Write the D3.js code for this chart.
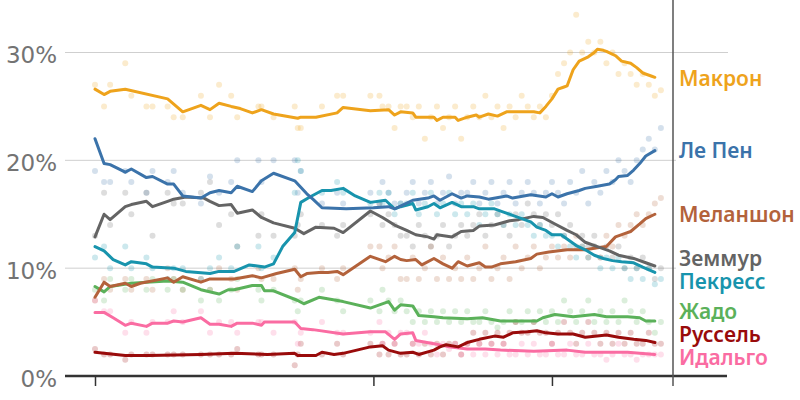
<!DOCTYPE html>
<html>
<head>
<meta charset="utf-8">
<script src="https://cdn.jsdelivr.net/npm/d3@7"></script>
<style>
  body { margin: 0; background: #fff; }
  svg { display: block; font-family: "DejaVu Sans", sans-serif; }
</style>
</head>
<body>
<div id="chart"></div>
<script>
// Candidates, colours and tick values
const candidates = ["Макрон", "Ле Пен", "Меланшон", "Земмур", "Пекресс", "Жадо", "Руссель", "Идальго"];
const colors = ["#eea31c", "#3b73aa", "#b3623b", "#646464", "#1894ad", "#5bb15a", "#990b0b", "#fa6ca2"];
const yTicks = [0, 10, 20, 30];
const yTickLabels = ["0%", "10%", "20%", "30%"];
const xTicks = ["2021-10-01", "2022-01-01", "2022-03-01"];
const electionDay = "2022-04-10";

// Poll average lines
const macronTrend = [["2021-10-01",26.6],["2021-10-04",26.1],["2021-10-06",26.4],["2021-10-11",26.6],["2021-10-25",25.7],["2021-10-30",24.5],["2021-11-05",25.1],["2021-11-08",24.7],["2021-11-11",25.3],["2021-11-15",25.0],["2021-11-18",24.8],["2021-11-22",24.4],["2021-11-25",24.7],["2021-11-29",24.3],["2021-12-07",23.9],["2021-12-08",24.0],["2021-12-13",24.0],["2021-12-20",24.4],["2021-12-22",24.9],["2021-12-31",24.6],["2022-01-06",24.7],["2022-01-08",24.2],["2022-01-10",24.5],["2022-01-14",24.4],["2022-01-15",24.0],["2022-01-21",24.0],["2022-01-22",23.7],["2022-01-24",24.0],["2022-01-28",24.0],["2022-01-29",23.7],["2022-02-01",24.0],["2022-02-04",24.2],["2022-02-05",24.0],["2022-02-08",24.3],["2022-02-11",24.1],["2022-02-14",24.5],["2022-02-23",24.5],["2022-02-25",24.4],["2022-02-27",25.0],["2022-03-01",25.7],["2022-03-03",26.6],["2022-03-05",26.8],["2022-03-06",26.9],["2022-03-08",28.4],["2022-03-10",29.2],["2022-03-13",29.6],["2022-03-15",30.0],["2022-03-16",30.3],["2022-03-18",30.2],["2022-03-19",30.1],["2022-03-22",29.7],["2022-03-24",29.2],["2022-03-27",29.0],["2022-03-29",28.6],["2022-03-31",28.1],["2022-04-03",27.8],["2022-04-04",27.7]];
const lepenTrend = [["2021-10-01",22.0],["2021-10-04",19.7],["2021-10-06",19.6],["2021-10-11",18.9],["2021-10-13",19.2],["2021-10-18",18.4],["2021-10-20",18.5],["2021-10-25",17.8],["2021-10-27",17.8],["2021-10-30",16.7],["2021-11-05",16.5],["2021-11-08",17.0],["2021-11-11",17.2],["2021-11-15",17.0],["2021-11-17",17.6],["2021-11-22",17.1],["2021-11-25",18.1],["2021-11-29",18.8],["2021-12-06",18.1],["2021-12-08",17.5],["2021-12-10",16.9],["2021-12-12",16.4],["2021-12-15",15.6],["2021-12-23",15.5],["2022-01-01",15.6],["2022-01-06",15.7],["2022-01-08",15.5],["2022-01-14",16.3],["2022-01-19",16.5],["2022-01-21",16.7],["2022-01-23",16.3],["2022-01-27",16.9],["2022-01-30",16.5],["2022-02-01",16.7],["2022-02-05",16.6],["2022-02-08",16.4],["2022-02-14",16.7],["2022-02-16",16.5],["2022-02-22",16.8],["2022-02-27",16.6],["2022-03-01",16.9],["2022-03-03",16.6],["2022-03-06",16.9],["2022-03-10",17.2],["2022-03-12",17.4],["2022-03-16",17.6],["2022-03-20",17.8],["2022-03-22",18.2],["2022-03-23",18.5],["2022-03-26",18.6],["2022-03-28",19.1],["2022-03-30",19.7],["2022-04-01",20.4],["2022-04-04",20.9]];
const melenchonTrend = [["2021-10-01",7.3],["2021-10-04",8.7],["2021-10-06",8.3],["2021-10-11",8.6],["2021-10-13",8.3],["2021-10-16",8.6],["2021-10-25",9.1],["2021-10-27",8.7],["2021-10-30",9.2],["2021-11-05",8.7],["2021-11-08",9.0],["2021-11-16",9.0],["2021-11-22",9.3],["2021-11-25",9.1],["2021-11-30",9.5],["2021-12-06",9.9],["2021-12-08",9.2],["2021-12-10",9.5],["2021-12-14",9.6],["2021-12-17",9.6],["2021-12-20",9.7],["2021-12-22",9.4],["2021-12-31",11.1],["2022-01-05",10.6],["2022-01-08",11.1],["2022-01-10",10.8],["2022-01-12",10.7],["2022-01-15",10.8],["2022-01-17",10.3],["2022-01-21",10.9],["2022-01-24",10.4],["2022-01-27",10.0],["2022-01-29",10.6],["2022-02-01",10.2],["2022-02-05",10.5],["2022-02-07",10.1],["2022-02-09",10.1],["2022-02-12",10.4],["2022-02-17",10.6],["2022-02-22",10.9],["2022-02-24",11.3],["2022-02-28",11.5],["2022-03-06",11.7],["2022-03-12",11.7],["2022-03-16",11.9],["2022-03-19",12.0],["2022-03-22",12.9],["2022-03-25",13.2],["2022-03-27",13.4],["2022-03-30",14.1],["2022-04-01",14.6],["2022-04-04",15.0]];
const zemmourTrend = [["2021-10-01",12.9],["2021-10-04",15.0],["2021-10-06",14.5],["2021-10-11",15.7],["2021-10-13",15.9],["2021-10-18",16.2],["2021-10-20",15.7],["2021-10-25",16.2],["2021-10-27",16.4],["2021-10-31",16.6],["2021-11-06",16.5],["2021-11-08",16.2],["2021-11-11",15.8],["2021-11-15",15.9],["2021-11-17",15.1],["2021-11-22",15.4],["2021-11-25",14.7],["2021-11-29",14.2],["2021-12-06",13.7],["2021-12-09",13.2],["2021-12-13",13.8],["2021-12-19",13.7],["2021-12-22",13.3],["2021-12-31",15.3],["2022-01-04",14.7],["2022-01-08",14.0],["2022-01-12",13.5],["2022-01-15",13.1],["2022-01-19",12.9],["2022-01-21",12.7],["2022-01-22",13.1],["2022-01-27",12.9],["2022-01-30",13.4],["2022-02-03",13.5],["2022-02-05",13.9],["2022-02-10",14.0],["2022-02-15",14.4],["2022-02-18",14.5],["2022-02-23",14.8],["2022-02-26",14.7],["2022-03-02",14.1],["2022-03-06",13.5],["2022-03-09",13.1],["2022-03-12",12.4],["2022-03-16",12.0],["2022-03-20",11.6],["2022-03-23",11.2],["2022-03-28",10.9],["2022-04-01",10.5],["2022-04-04",10.2]];
const pecresseTrend = [["2021-10-01",12.0],["2021-10-04",11.6],["2021-10-07",10.8],["2021-10-11",10.3],["2021-10-13",10.6],["2021-10-18",10.4],["2021-10-20",10.1],["2021-10-27",10.0],["2021-10-31",9.7],["2021-11-08",9.5],["2021-11-11",9.7],["2021-11-16",9.7],["2021-11-21",10.3],["2021-11-26",10.1],["2021-11-29",10.4],["2021-12-02",12.0],["2021-12-06",13.3],["2021-12-08",16.1],["2021-12-11",16.6],["2021-12-15",17.2],["2021-12-18",17.2],["2021-12-22",17.4],["2021-12-26",16.7],["2021-12-31",16.1],["2022-01-05",16.3],["2022-01-08",15.5],["2022-01-10",15.7],["2022-01-14",16.0],["2022-01-15",15.4],["2022-01-19",15.7],["2022-01-21",16.0],["2022-01-23",15.6],["2022-01-27",16.1],["2022-01-30",15.7],["2022-02-03",15.7],["2022-02-05",15.5],["2022-02-10",15.5],["2022-02-13",15.2],["2022-02-16",14.9],["2022-02-19",14.6],["2022-02-22",14.3],["2022-02-24",13.8],["2022-02-27",13.5],["2022-03-01",13.1],["2022-03-04",13.1],["2022-03-06",12.7],["2022-03-09",12.1],["2022-03-12",11.7],["2022-03-15",11.2],["2022-03-18",10.9],["2022-03-21",10.7],["2022-03-24",10.6],["2022-03-28",10.5],["2022-03-31",10.1],["2022-04-04",9.6]];
const jadotTrend = [["2021-10-01",8.3],["2021-10-04",7.8],["2021-10-06",8.3],["2021-10-13",8.6],["2021-10-18",8.7],["2021-10-25",8.8],["2021-10-30",8.7],["2021-11-05",8.0],["2021-11-11",7.6],["2021-11-14",8.0],["2021-11-16",8.0],["2021-11-22",8.4],["2021-11-25",8.4],["2021-11-26",7.9],["2021-11-29",7.9],["2021-12-07",7.0],["2021-12-09",6.7],["2021-12-14",7.3],["2021-12-22",6.9],["2021-12-31",6.3],["2022-01-06",6.9],["2022-01-08",6.1],["2022-01-10",6.6],["2022-01-14",6.5],["2022-01-16",5.6],["2022-01-21",5.5],["2022-01-24",5.4],["2022-02-01",5.3],["2022-02-06",5.4],["2022-02-12",5.1],["2022-02-17",5.1],["2022-02-24",5.1],["2022-02-26",5.4],["2022-03-02",5.7],["2022-03-08",5.5],["2022-03-15",5.7],["2022-03-19",5.5],["2022-03-26",5.5],["2022-03-30",5.4],["2022-04-01",5.1],["2022-04-04",5.1]];
const rousselTrend = [["2021-10-01",2.2],["2021-10-04",2.1],["2021-10-11",1.9],["2021-10-19",1.9],["2021-11-05",2.0],["2021-11-16",2.1],["2021-11-27",2.0],["2021-12-06",2.1],["2021-12-07",1.9],["2021-12-13",1.9],["2021-12-15",2.2],["2021-12-19",2.0],["2021-12-22",2.1],["2021-12-31",2.7],["2022-01-04",2.8],["2022-01-06",2.4],["2022-01-10",2.1],["2022-01-14",2.2],["2022-01-16",2.0],["2022-01-21",2.4],["2022-01-23",2.7],["2022-01-25",2.9],["2022-01-29",2.7],["2022-02-01",3.1],["2022-02-05",3.4],["2022-02-10",3.7],["2022-02-13",3.6],["2022-02-16",4.0],["2022-02-21",4.1],["2022-02-24",4.2],["2022-02-27",4.0],["2022-03-03",3.9],["2022-03-08",3.9],["2022-03-12",3.6],["2022-03-19",3.8],["2022-03-23",3.6],["2022-03-28",3.4],["2022-04-01",3.3],["2022-04-04",3.1]];
const hidalgoTrend = [["2021-10-01",5.9],["2021-10-04",5.9],["2021-10-07",5.4],["2021-10-11",4.7],["2021-10-13",4.9],["2021-10-18",4.6],["2021-10-20",4.9],["2021-10-25",4.9],["2021-10-27",5.1],["2021-10-30",5.0],["2021-11-05",5.4],["2021-11-08",4.8],["2021-11-11",4.8],["2021-11-15",4.6],["2021-11-17",4.9],["2021-11-22",4.9],["2021-11-25",4.7],["2021-11-26",5.0],["2021-11-30",5.0],["2021-12-06",5.0],["2021-12-08",4.4],["2021-12-12",4.3],["2021-12-22",3.9],["2021-12-31",4.1],["2022-01-05",4.1],["2022-01-08",3.4],["2022-01-10",3.9],["2022-01-14",4.0],["2022-01-15",3.3],["2022-01-21",3.0],["2022-01-26",2.7],["2022-02-01",2.5],["2022-02-07",2.5],["2022-02-12",2.4],["2022-02-23",2.3],["2022-03-06",2.4],["2022-03-12",2.2],["2022-03-19",2.2],["2022-03-26",2.2],["2022-03-30",2.1],["2022-04-04",2.0]];

// Individual polls (one value per candidate per poll date)
const pollDates = ["2021-10-01","2021-10-04","2021-10-06","2021-10-11","2021-10-13","2021-10-18","2021-10-20","2021-10-25","2021-10-27","2021-10-30",
  "2021-11-05","2021-11-08","2021-11-11","2021-11-15","2021-11-17","2021-11-24","2021-11-25","2021-11-29",
  "2021-12-06","2021-12-07","2021-12-08","2021-12-15","2021-12-20","2021-12-22","2021-12-31",
  "2022-01-03","2022-01-04","2022-01-06","2022-01-08","2022-01-10","2022-01-12","2022-01-14","2022-01-16","2022-01-18","2022-01-20","2022-01-22","2022-01-24","2022-01-26","2022-01-28","2022-01-30",
  "2022-02-01","2022-02-03","2022-02-05","2022-02-07","2022-02-09","2022-02-11","2022-02-13","2022-02-15","2022-02-17","2022-02-19","2022-02-21","2022-02-23","2022-02-25","2022-02-27",
  "2022-03-01","2022-03-03","2022-03-05","2022-03-07","2022-03-09","2022-03-11","2022-03-13","2022-03-15","2022-03-17","2022-03-19","2022-03-21","2022-03-23","2022-03-25","2022-03-27","2022-03-29","2022-03-31",
  "2022-04-02","2022-04-04","2022-04-06"];
const macronPolls = [27,25,27,29,26,25,25,25,24,24, 26,24,27,26,24,25,25,24, 25,23,23,25,26,26,26, 26,25,25,23,25,25,24,25,22,24,25,23,24,25,22, 24,25,24,26,24,25,23,25,24,26,25,24,25,24, 26,28,29,30,33.5,30,31,30,31,29,30,28,29,28,27,28, 27,26,26.5];
const lepenPolls = [19,18,18,19,18,17,19,18,19,17, 16,18.5,17,18,20,20,18,20, 20,17,19,16,17,16,17, 16,18,17,16,16,17,18,16,17,18,16,17,18.5,16,17, 17,18,16,17,18,16,17,18,16,17,18,17,16,17, 18,17,16,18,17,19,16,18,17,19,18,20,19,18,20,21, 22,21,23];
const melenchonPolls = [7,9,8,9,8,9,8,10,9,8, 9,8,10,9,8,10,9,9, 10,8,9,10,9,10,12, 12,10,11,12,9,9,11,9,10,12,9,11,9,10,9, 11,9,10,12,9,10,11,9,12,10,11,12,10,11, 12,11,12,11,13,12,11,12,11,13,12,14,13,14,15,14, 15,16,16.5];
const zemmourPolls = [13,17,14,17,15,17,13,17,16,16, 17,18,14,15,12,13,15,13, 13,14,15,14,13,14,15, 16,14,15,14,13,13,12,14,13,12,13,14,12,13,14, 13,14,15,13,14,15,14,13,15,14,16,15,14,15, 14,15,13,14,12,13,12,13,11,12,11,12,10,11,10,11, 10,9,10];
const pecressePolls = [11,12,10,12,10,11,10,9,10,10, 9,10,11,10,12,12,10,11, 17,20,19,17,18,17,16, 17,16,17,15,16,16,17,15,16,17,15,16,17,15,16, 15,16,14,15,16,15,14,15,14,15,14,13,14,13, 13,12,13,12,11,12,11,12,10,11,10,11,10,9,10,9, 10,8.5,9];
const jadotPolls = [8,7,9,8,9,8,9,8,9,8, 7,8,7,8,9,8,7,8, 7,6,7,8,7,6,7, 6,8,7,6,7,6,5,6,5,6,5,6,5,6,5, 6,5,5,6,5,4.5,5,6,5,5,6,5,6,5, 6,5,7,6,5,6,7,5,6,5,6,5,7,6,5,6, 5,4,5];
const rousselPolls = [2.5,2,2,1.5,2,2,2,2,2,2, 2,2,2,2,2.5,2,2,2, 1,2,3,2,3,2,3, 2,3,2,3,2,2,3,2,3,2,3,2,3,3,2, 3,4,3,4,3,4,3,4,5,4,4,5,4,4, 3,4,5,4,3,4,5,4,3,4,3,4,3,4,3,3, 4,3,3];
const hidalgoPolls = [7,6,6,4,5,4,5,5,6,5, 6,4,5,5,4,5,5,4, 5,3,4,5,4,4,4, 5,3,4,3,4,4,3,3,4,3,2,3,2.5,3,2, 3,2,3,2,3,2,3,2,2,3,2,3,2,2, 3,2,2,3,2,2,3,2,2,1.5,2,3,2,2,1.5,2, 2,2,2];

const trends = [macronTrend, lepenTrend, melenchonTrend, zemmourTrend, pecresseTrend, jadotTrend, rousselTrend, hidalgoTrend];
const polls = [macronPolls, lepenPolls, melenchonPolls, zemmourPolls, pecressePolls, jadotPolls, rousselPolls, hidalgoPolls];

// Label baselines (layout)
const labelY = [86, 158, 222, 266, 289, 319, 342, 365];
// Line drawing order (bottom to top)
const drawOrder = [7, 6, 5, 2, 3, 4, 1, 0];

const width = 800, height = 400;
const parse = d3.utcParse("%Y-%m-%d");

const svg = d3.select("#chart").append("svg")
    .attr("width", width)
    .attr("height", height);

const x = d3.scaleUtc()
    .domain([parse("2021-10-01"), parse(electionDay)])
    .range([95, 673]);

const y = d3.scaleLinear()
    .domain([0, 30])
    .range([376, 52.5]);

// Gridlines
svg.append("g")
    .selectAll("line")
    .data(yTicks.filter(d => d > 0))
    .enter()
    .append("line")
    .attr("x1", 65)
    .attr("x2", 728)
    .attr("y1", d => y(d))
    .attr("y2", d => y(d))
    .attr("stroke", "#cfcfcf")
    .attr("stroke-width", 1);

// Y axis labels
const yAxis = svg.append("g")
    .attr("transform", "translate(60,0)")
    .call(d3.axisLeft(y).tickValues(yTicks).tickSize(0).tickPadding(3)
        .tickFormat((d, i) => yTickLabels[i]));
yAxis.select(".domain").remove();
yAxis.selectAll("text")
    .attr("font-family", "DejaVu Sans, sans-serif")
    .attr("font-size", 23)
    .attr("fill", "#737373")
    .attr("dy", "0.44em");

// Poll dots
candidates.forEach((name, i) => {
    svg.append("g")
        .selectAll("circle")
        .data(pollDates.map((d, j) => [parse(d), polls[i][j]]))
        .enter()
        .append("circle")
        .attr("cx", d => x(d[0]))
        .attr("cy", d => y(d[1]))
        .attr("r", 3)
        .attr("fill", colors[i])
        .attr("fill-opacity", 0.22);
});

// Trend lines
const line = d3.line()
    .x(d => x(parse(d[0])))
    .y(d => y(d[1]));

drawOrder.forEach(i => {
    svg.append("path")
        .datum(trends[i])
        .attr("d", line)
        .attr("fill", "none")
        .attr("stroke", colors[i])
        .attr("stroke-width", 3)
        .attr("stroke-linejoin", "round")
        .attr("stroke-linecap", "round");
});

// X axis: baseline and ticks
const xAxis = svg.append("g")
    .attr("transform", "translate(0,376)")
    .call(d3.axisBottom(x).tickValues(xTicks.map(parse)).tickSize(10).tickFormat(""));
xAxis.select(".domain").remove();
xAxis.selectAll("line").attr("stroke", "#333").attr("stroke-width", 1.5);

svg.append("line")
    .attr("x1", 65)
    .attr("x2", 727)
    .attr("y1", 376)
    .attr("y2", 376)
    .attr("stroke", "#333")
    .attr("stroke-width", 2.5);

// Election day marker
svg.append("line")
    .attr("x1", x(parse(electionDay)))
    .attr("x2", x(parse(electionDay)))
    .attr("y1", 0)
    .attr("y2", 386)
    .attr("stroke", "#555")
    .attr("stroke-width", 1.5);

// Candidate labels
const labels = svg.append("g");
candidates.forEach((name, i) => {
    labels.append("rect")
        .attr("x", 676)
        .attr("y", labelY[i] - 18)
        .attr("width", 124)
        .attr("height", 23)
        .attr("fill", "#fff");
});
candidates.forEach((name, i) => {
    labels.append("text")
        .attr("x", 679)
        .attr("y", labelY[i])
        .attr("font-family", "Noto Sans, sans-serif")
        .attr("font-weight", 600)
        .attr("font-size", 21)
        .attr("fill", colors[i])
        .text(name);
});
</script>
</body>
</html>
